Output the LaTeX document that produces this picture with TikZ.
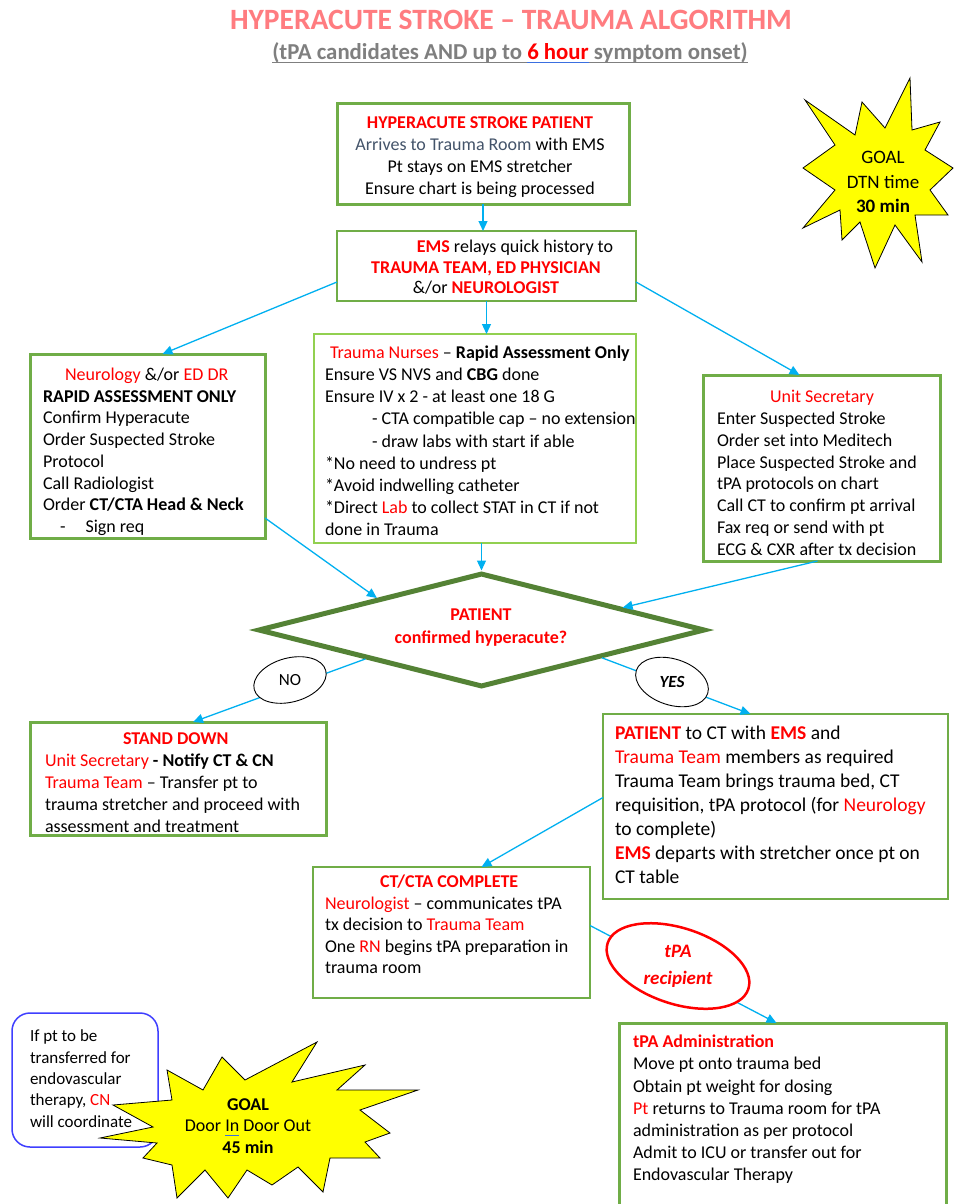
\documentclass[tikz,border=0pt]{standalone}
\usepackage{fontspec}
\setmainfont{Carlito}
\usetikzlibrary{arrows.meta,shapes.geometric,calc}
\definecolor{titlered}{HTML}{FF7C80}
\definecolor{subgrey}{HTML}{7F7F7F}
\definecolor{myred}{HTML}{FF0000}
\definecolor{slate}{HTML}{44546A}
\definecolor{boxgreen}{HTML}{70AD47}
\definecolor{midgreen}{HTML}{92D050}
\definecolor{diagreen}{HTML}{548235}
\definecolor{arrowblue}{HTML}{00B0F0}
\definecolor{staryellow}{HTML}{FFFF00}
\definecolor{boxblue}{HTML}{3F3FFF}
\definecolor{ulblue}{HTML}{3A6FE0}
\newcommand{\rd}[1]{\textcolor{myred}{#1}}
\newsavebox{\myulbox}
\newcommand{\ulc}[2]{\sbox{\myulbox}{#2}\rlap{\textcolor{#1}{\rule[-4pt]{\wd\myulbox}{1.2pt}}}\usebox{\myulbox}}
\begin{document}
\begin{tikzpicture}[x=1pt,y=-1pt,
  box/.style={draw=boxgreen, line width=3pt, fill=white, inner sep=0pt, outer sep=0pt, anchor=north west},
  thinbox/.style={box, line width=1.8pt},
  txt/.style={inner sep=0pt, outer sep=0pt, align=left, anchor=north west, font=\fontsize{18}{21.8}\selectfont},
  conn/.style={draw=arrowblue, line width=1.3pt, -{Triangle[length=10pt,width=9pt]}},
  starshape/.style={draw=black, line width=0.8pt, fill=staryellow},
]
\useasboundingbox (0,0) rectangle (955,1204);
\fill[white] (0,0) rectangle (955,1204);

% titles
\node[font=\bfseries\fontsize{29.5}{32}\selectfont, text=titlered, inner sep=0pt] (title) at (511,20) {HYPERACUTE STROKE -- TRAUMA ALGORITHM};
\node[font=\bfseries\fontsize{22.8}{26}\selectfont, inner sep=0pt] (subtitle) at (510,53) {\color{subgrey}\ulc{subgrey}{(tPA candidates AND up to }\ulc{ulblue}{\textcolor{myred}{6 hour}}\ulc{subgrey}{ symptom onset)}};

% boxes
\node[box, minimum width=292pt, minimum height=100pt] (arrive) at (337,104) {};
\node[thinbox, line width=2pt, minimum width=299pt, minimum height=70pt] (ems) at (337,231) {};
\node[box, minimum width=235pt, minimum height=184pt] (neuro) at (30,354) {};
\node[thinbox, draw=midgreen, line width=1.5pt, minimum width=322pt, minimum height=209pt] (mid) at (314,334) {};
\node[box, minimum width=237pt, minimum height=186pt] (secr) at (703,375) {};
\node[draw=diagreen, line width=5pt, diamond, fill=white, minimum width=447pt, minimum height=114pt, inner sep=0pt] (dia) at (481.5,630) {};
\node[box, minimum width=296pt, minimum height=113pt] (stand) at (30,722) {};
\node[thinbox, line width=1.5pt, minimum width=345pt, minimum height=185pt] (patient) at (603,714) {};
\node[thinbox, line width=2pt, minimum width=277pt, minimum height=131pt] (ctcta) at (313,867) {};
\node[box, minimum width=327pt, minimum height=190pt] (admin) at (619,1023) {};
\node[draw=boxblue, line width=1.5pt, rounded corners=18pt, fill=white, minimum width=146pt, minimum height=134pt, anchor=north west, inner sep=0pt, outer sep=0pt] (note) at (12,1013) {};

% texts
\node[txt, align=center, anchor=north] (arrivetxt) at (480,117) {\textbf{\rd{HYPERACUTE STROKE PATIENT}}\\ \textcolor{slate}{Arrives to Trauma Room} with EMS\\ Pt stays on EMS stretcher\\ Ensure chart is being processed};
\node[txt, align=center, anchor=north, font=\fontsize{18}{20.5}\selectfont] (emstxt) at (486,240) {\hspace*{58pt}\rd{\textbf{EMS}} relays quick history to\\ \rd{\textbf{TRAUMA TEAM, ED PHYSICIAN}}\\ \&/or \rd{\textbf{NEUROLOGIST}}};
\node[txt, font=\fontsize{18}{21.7}\selectfont] (neurotxt) at (43,368) {\hspace*{22pt}\rd{Neurology} \&/or \rd{ED DR}\\ \textbf{RAPID ASSESSMENT ONLY}\\ Confirm Hyperacute\\ Order Suspected Stroke\\ Protocol\\ Call Radiologist\\ Order \textbf{CT/CTA Head \& Neck}\\ \hspace*{17pt}-\hspace*{20pt}Sign req};
\node[txt, font=\fontsize{18}{22.1}\selectfont] (midtxt) at (325,346) {\hspace*{5pt}\rd{Trauma Nurses} -- \textbf{Rapid Assessment Only}\\ Ensure VS NVS and \textbf{CBG} done\\ Ensure IV x 2 - at least one 18 G\\ \hspace*{47pt}- CTA compatible cap -- no extension\\ \hspace*{47pt}- draw labs with start if able\\ *No need to undress pt\\ *Avoid indwelling catheter\\ *Direct \rd{Lab} to collect STAT in CT if not\\ done in Trauma};
\node[txt, font=\fontsize{18}{21.9}\selectfont] (secrtxt) at (717,390) {\hspace*{53pt}\rd{Unit Secretary}\\ Enter Suspected Stroke\\ Order set into Meditech\\ Place Suspected Stroke and\\ tPA protocols on chart\\ Call CT to confirm pt arrival\\ Fax req or send with pt\\ ECG \& CXR after tx decision};
\node[txt, align=center, anchor=center, font=\bfseries\fontsize{18}{23}\selectfont, text=myred] (diatxt) at (481,628) {PATIENT\\ confirmed hyperacute?};
\node[txt, font=\fontsize{18}{21.8}\selectfont] (standtxt) at (45,733) {\hspace*{78pt}\rd{\textbf{STAND DOWN}}\\ \rd{Unit Secretary} \textbf{- Notify CT \& CN}\\ \rd{Trauma Team} -- Transfer pt to\\ trauma stretcher and proceed with\\ assessment and treatment};
\node[txt, font=\fontsize{19.5}{24}\selectfont] (patienttxt) at (615,725.5) {\rd{\textbf{PATIENT}} to CT with \rd{\textbf{EMS}} and\\ \rd{Trauma Team} members as required\\ Trauma Team brings trauma bed, CT\\ requisition, tPA protocol (for \rd{Neurology}\\ to complete)\\ \rd{\textbf{EMS}} departs with stretcher once pt on\\ CT table};
\node[txt, font=\fontsize{18}{21.5}\selectfont] (ctctatxt) at (325,875) {\hspace*{55pt}\rd{\textbf{CT/CTA COMPLETE}}\\ \rd{Neurologist} -- communicates tPA\\ tx decision to \rd{Trauma Team}\\ One \rd{RN} begins tPA preparation in\\ trauma room};
\node[txt, font=\fontsize{18}{22.2}\selectfont] (admintxt) at (633,1035) {\rd{\textbf{tPA Administration}}\\ Move pt onto trauma bed\\ Obtain pt weight for dosing\\ \rd{Pt} returns to Trauma room for tPA\\ administration as per protocol\\ Admit to ICU or transfer out for\\ Endovascular Therapy};

% connectors
\draw[conn] (arrive.south) -- (arrive.south |- ems.north);
\draw[conn] ([yshift=-16pt]ems.west) -- ([xshift=15pt]neuro.north);
\draw[conn] (ems.south) -- (ems.south |- mid.north);
\draw[conn] ([yshift=-16pt]ems.east) -- ([xshift=-22pt]secr.north);
\draw[conn] ([yshift=-72pt]neuro.east) -- (dia.163);
\draw[conn] ([xshift=-4pt]secr.south) -- (dia.9);
\draw[conn] (dia.north |- mid.south) -- (dia.north);
\draw[conn] (dia.194) -- ([xshift=15pt]stand.north);
\draw[conn] (dia.347) -- ([xshift=-25pt]patient.north);
\draw[conn] ([yshift=9pt]patient.west) -- ([xshift=30pt]ctcta.north);
\draw[conn] ([yshift=7pt]ctcta.east) -- ([xshift=-6pt]admin.north);

% connector labels
\node[draw=black, line width=0.9pt, fill=white, ellipse, minimum width=74pt, minimum height=44pt, inner sep=0pt, rotate=15] (noel) at (290,680) {};
\node[font=\fontsize{17}{20}\selectfont, inner sep=0pt] (notext) at (noel.center) {NO};
\node[draw=black, line width=0.9pt, fill=white, ellipse, minimum width=75pt, minimum height=46pt, inner sep=0pt, rotate=-18] (yesel) at (672,682) {};
\node[font=\bfseries\itshape\fontsize{17}{20}\selectfont, inner sep=0pt] (yestext) at (yesel.center) {YES};
\node[draw=myred, line width=2.5pt, fill=white, ellipse, minimum width=148pt, minimum height=76pt, inner sep=0pt, rotate=-18] (tpael) at (678,966) {};
\node[font=\bfseries\itshape\fontsize{19}{27}\selectfont, text=myred, align=center, inner sep=0pt] (tpatext) at (tpael.center) {tPA\\ recipient};

% top-right star
\draw[starshape] (910,78) -- (912,130) -- (940,122) -- (925,150) -- (953,168) -- (930,190) -- (948,215) -- (915,215) -- (922,262) -- (895,225) -- (875,268) -- (860,222) -- (842,240) -- (840,210) -- (803,228) -- (835,190) -- (803,168) -- (835,145) -- (805,100) -- (855,135) -- (862,102) -- (885,128) -- cycle;
\node[align=center, inner sep=0pt, font=\fontsize{19}{24.5}\selectfont] (goal1) at (883,182) {GOAL\\ DTN time\\ \textbf{30 min}};

% bottom star (over the note box, under its text)
\draw[starshape] (167,1070) -- (203,1090) -- (222,1057) -- (245,1080) -- (317,1042) -- (292,1082) -- (365,1065) -- (337,1090) -- (418,1090) -- (360,1110) -- (390,1133) -- (365,1142) -- (380,1158) -- (330,1158) -- (323,1192) -- (298,1167) -- (272,1185) -- (247,1170) -- (228,1198) -- (205,1170) -- (177,1198) -- (172,1165) -- (143,1158) -- (157,1143) -- (100,1138) -- (153,1127) -- (113,1105) -- (172,1100) -- cycle;
\node[align=center, inner sep=0pt, font=\fontsize{18}{21.5}\selectfont] (goal2) at (248,1126) {\textbf{GOAL}\\ Door \ulc{ulblue}{In} Door Out\\ \textbf{45 min}};
\node[txt, font=\fontsize{17}{21.3}\selectfont] (notetxt) at (30,1030) {If pt to be\\ transferred for\\ endovascular\\ therapy, \rd{CN}\\ will coordinate};
\end{tikzpicture}
\end{document}
